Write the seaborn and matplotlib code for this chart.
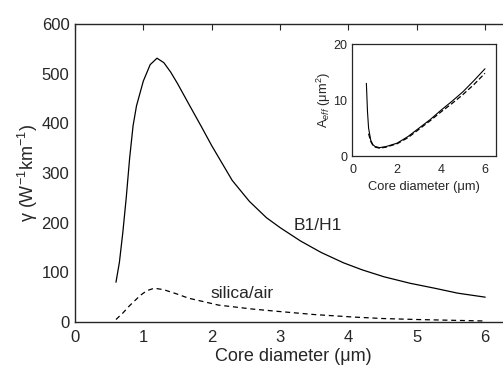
import numpy as np
import pandas as pd
import seaborn as sns
import matplotlib.pyplot as plt

# main panel: nonlinear coefficient vs core diameter
d_b1 = [0.6, 0.65, 0.7, 0.75, 0.8, 0.85, 0.9, 1.0, 1.1, 1.2, 1.3, 1.4, 1.5, 1.66, 1.85,
        2.0, 2.3, 2.55, 2.8, 3.0, 3.3, 3.6, 3.93, 4.2, 4.52, 4.9, 5.26, 5.6, 6.0]
g_b1 = [80, 120, 180, 250, 330, 395, 435, 485, 518, 531, 522, 503, 480, 440, 393,
        355, 285, 243, 210, 190, 163, 140, 119, 105, 91, 78, 68, 58, 50]

d_si = [0.6, 0.7, 0.8, 0.96, 1.05, 1.16, 1.3, 1.5, 1.66, 2.1, 2.6, 3.0, 3.5, 4.07, 4.5, 5.0, 5.5, 6.0]
g_si = [5, 18, 33, 54, 63, 68, 65, 56, 48, 34, 26, 21, 15, 10, 7, 5, 3.5, 2]

# inset: effective area
d_in = [0.6, 0.65, 0.7, 0.8, 0.9, 1.0, 1.2, 1.5, 2.0, 2.5, 3.0, 3.5, 4.0, 4.5, 5.0, 5.5, 6.0]
a_solid = [13, 8, 5, 2.8, 2.0, 1.7, 1.5, 1.7, 2.3, 3.5, 5.0, 6.5, 8.2, 9.8, 11.5, 13.5, 15.6]
d_in2 = [0.7, 0.8, 0.9, 1.0, 1.2, 1.5, 2.0, 2.5, 3.0, 3.5, 4.0, 4.5, 5.0, 5.5, 6.0]
a_dash = [4.0, 2.6, 1.9, 1.6, 1.4, 1.6, 2.2, 3.3, 4.8, 6.3, 7.9, 9.4, 11.0, 12.8, 14.8]

sns.set_style("white")
plt.rcParams['font.family'] = ['Liberation Sans', 'DejaVu Sans']
plt.rcParams['mathtext.fontset'] = 'custom'
plt.rcParams['mathtext.rm'] = 'Liberation Sans'
plt.rcParams['mathtext.it'] = 'Liberation Sans:italic'

fig = plt.figure(figsize=(5.03, 3.68), dpi=100)
ax = fig.add_axes([0.149, 0.125, 0.87, 0.81])

sns.lineplot(x=d_b1, y=g_b1, ax=ax, color='black', lw=0.9)
sns.lineplot(x=d_si, y=g_si, ax=ax, color='black', lw=0.9, linestyle=(0, (4, 3)))
ax.set_xlim(0, 6.4)
ax.set_ylim(0, 600)
ax.set_xticks(range(0, 7))
ax.set_yticks(range(0, 700, 100))
ax.spines['right'].set_visible(False)
for s in ['left', 'bottom', 'top']:
    ax.spines[s].set_linewidth(1.0)
ax.tick_params(axis='x', direction='in', top=True, length=4, labelsize=12, pad=6)
ax.tick_params(axis='y', direction='out', length=3, labelsize=12, pad=1)
ax.set_xlabel('Core diameter (\u03bcm)', fontsize=13, labelpad=2)
ax.set_ylabel('\u03b3 (W$^{-1}$km$^{-1}$)', fontsize=13, labelpad=1)
ax.text(3.2, 195, 'B1/H1', fontsize=12.5, va='center')
ax.text(1.98, 58, 'silica/air', fontsize=12.5, va='center')

ins = fig.add_axes([0.70, 0.576, 0.286, 0.304])
sns.lineplot(x=d_in, y=a_solid, ax=ins, color='black', lw=0.8)
sns.lineplot(x=d_in2, y=a_dash, ax=ins, color='black', lw=0.9, linestyle=(0, (4, 2)))
ins.set_xlim(-0.05, 6.5)
ins.set_ylim(0, 20)
ins.set_xticks([0, 2, 4, 6])
ins.set_yticks([0, 10, 20])
ins.tick_params(labelsize=9, length=2, pad=1.5)
ins.tick_params(axis='x', pad=4)
ins.set_xlabel('Core diameter (\u03bcm)', fontsize=9.3, labelpad=3)
ins.set_ylabel('A$_{eff}$ (\u03bcm$^2$)', fontsize=9.3, labelpad=0)
for s in ins.spines.values():
    s.set_linewidth(0.9)

fig.savefig('out.png', dpi=100)
